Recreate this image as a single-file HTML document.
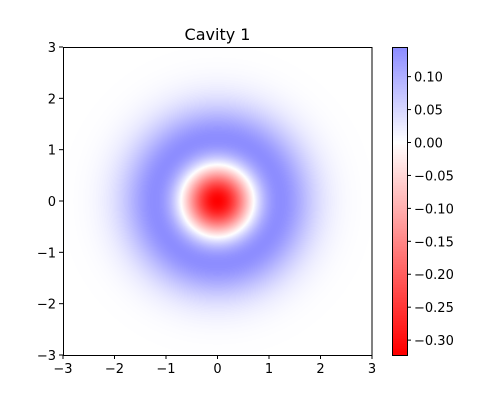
<!DOCTYPE html>
<html><head><meta charset="utf-8"><style>
html,body{margin:0;padding:0;background:#fff;}
body{width:500px;height:400px;position:relative;overflow:hidden;font-family:"DejaVu Sans","Liberation Sans",sans-serif;}
</style></head><body>
<svg id="chart" width="500" height="400" xmlns="http://www.w3.org/2000/svg" style="position:absolute;left:0;top:0;font-family:'DejaVu Sans','Liberation Sans',sans-serif">
<text x="217.5" y="40" font-size="16" text-anchor="middle" fill="#000">Cavity 1</text>
<foreignObject x="63" y="47" width="309" height="308"><canvas xmlns="http://www.w3.org/1999/xhtml" id="heat" width="309" height="308" style="display:block"></canvas></foreignObject>
<rect x="63.5" y="47.5" width="308.5" height="308" fill="none" stroke="#000" stroke-width="1"/>
<foreignObject x="392" y="47" width="15" height="308"><canvas xmlns="http://www.w3.org/1999/xhtml" id="cb" width="15" height="308" style="display:block"></canvas></foreignObject>
<rect x="392.5" y="47.5" width="15" height="308" fill="none" stroke="#000" stroke-width="1"/>
<g id="axes"></g>
</svg>
<script>
const xTicks=[-3,-2,-1,0,1,2,3];
const yTicks=[-3,-2,-1,0,1,2,3];
const cbTicks=[0.10,0.05,0.00,-0.05,-0.10,-0.15,-0.20,-0.25,-0.30];
const cbRange=[-0.3226,0.1450];
const domain=[-3,3];
const colorScale=[0.3183];
const L=63,R=372,T=47,B=355;
const sx=v=>L+(v-domain[0])/(domain[1]-domain[0])*(R-L);
const sy=v=>B-(v-domain[0])/(domain[1]-domain[0])*(B-T);
const cy=v=>B-(v-cbRange[0])/(cbRange[1]-cbRange[0])*(B-T);
function W(x,p){const r2=x*x+p*p;return (2*r2-1)*Math.exp(-r2)/Math.PI;}
function col(v){const t=Math.max(-1,Math.min(1,v/colorScale[0]));
 if(t<0){const c=Math.round(255*(1+t));return [255,c,c];}
 const c=Math.round(255*(1-t));return [c,c,255];}
const hc=document.getElementById('heat'),hx=hc.getContext('2d'),img=hx.createImageData(309,308);
for(let j=0;j<308;j++)for(let i=0;i<309;i++){
 const x=domain[0]+(i+0.5)/309*(domain[1]-domain[0]),p=domain[1]-(j+0.5)/308*(domain[1]-domain[0]);
 const c=col(W(x,p)),k=(j*309+i)*4;img.data[k]=c[0];img.data[k+1]=c[1];img.data[k+2]=c[2];img.data[k+3]=255;}
hx.putImageData(img,0,0);
const cc=document.getElementById('cb'),cx=cc.getContext('2d');
for(let j=0;j<308;j++){const v=cbRange[1]-(j+0.5)/308*(cbRange[1]-cbRange[0]);const c=col(v);cx.fillStyle=`rgb(${c[0]},${c[1]},${c[2]})`;cx.fillRect(0,j,15,1);}
const g=document.getElementById('axes'),NS='http://www.w3.org/2000/svg';
function line(x1,y1,x2,y2,name){const l=document.createElementNS(NS,'line');l.setAttribute('x1',x1);l.setAttribute('y1',y1);l.setAttribute('x2',x2);l.setAttribute('y2',y2);l.setAttribute('stroke','#000');


g.appendChild(l);}
function text(x,y,s,anchor,name){const t=document.createElementNS(NS,'text');t.setAttribute('x',x);t.setAttribute('y',y);t.setAttribute('font-size','13');t.setAttribute('text-anchor',anchor);t.textContent=s;


g.appendChild(t);}
const fmt=v=>(v<0?'\u2212':'')+Math.abs(v);
xTicks.forEach(v=>{const x=sx(v);line(x,B,x,B+4,'x-tick');text(x,B+18,fmt(v),'middle','x-tick-label');});
yTicks.forEach(v=>{const y=sy(v);line(L-4,y,L,y,'y-tick');text(L-7,y+5,fmt(v),'end','y-tick-label');});
cbTicks.forEach(v=>{const y=cy(v);line(407,y,411,y,'colorbar-tick');const s=(v<0?'\u2212':'')+Math.abs(v).toFixed(2);text(414,y+5,s,'start','colorbar-tick-label');});
</script>
</body></html>
